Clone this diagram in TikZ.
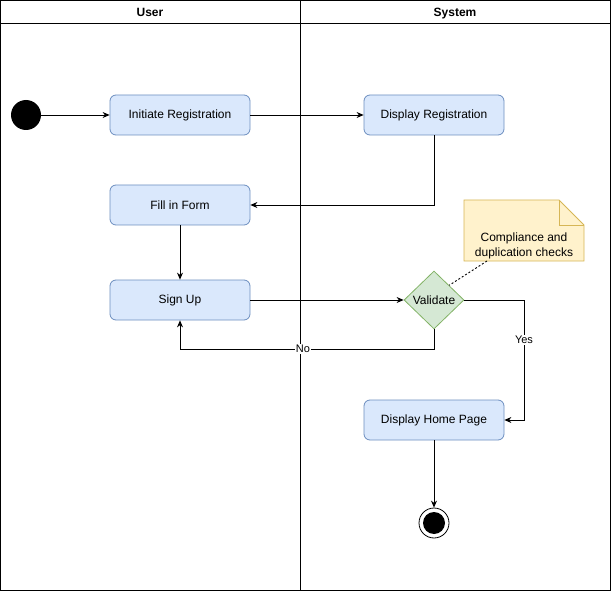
\documentclass[tikz,border=0pt]{standalone}
\usepackage{fontspec}
\setmainfont{Liberation Sans}
\usetikzlibrary{arrows.meta,shapes.geometric}
\definecolor{actfill}{HTML}{DAE8FC}
\definecolor{actline}{HTML}{6C8EBF}
\definecolor{decfill}{HTML}{D5E8D4}
\definecolor{decline}{HTML}{82B366}
\definecolor{notefill}{HTML}{FFF2CC}
\definecolor{noteline}{HTML}{D6B656}
\begin{document}
\begin{tikzpicture}[x=1pt,y=-1pt,
  font=\fontsize{12}{14}\selectfont,
  activity/.style={draw=actline,fill=actfill,rounded corners=6pt,line width=0.8pt,
    minimum width=140pt,minimum height=40pt,inner sep=0pt},
  decision/.style={diamond,draw=decline,fill=decfill,line width=0.8pt,
    minimum width=60pt,minimum height=58pt,inner sep=0pt,aspect=1.03},
  flow/.style={draw=black,line width=0.8pt,-{Stealth[length=7pt,width=6pt]}},
  lbl/.style={fill=white,inner sep=1pt,font=\fontsize{11}{13}\selectfont},
  lane/.style={draw=black,line width=0.8pt},
  header/.style={font=\bfseries\fontsize{12}{14}\selectfont,anchor=base,inner sep=0pt}]
\useasboundingbox (0,0) rectangle (611,591);
% swimlanes
\draw[lane] (0.5,0.5) rectangle (610.5,590.5);
\draw[lane] (0.5,23) -- (610.5,23);
\draw[lane] (300,0.5) -- (300,590.5);
\node[header] (huser) at (150,16.5) {User};
\node[header] (hsys) at (455,16.5) {System};
% initial and final states
\node[circle,fill=black,minimum size=30pt,inner sep=0pt] (start) at (26,115) {};
\node[circle,draw=black,line width=0.8pt,fill=white,minimum size=30pt,inner sep=0pt] (final) at (434,523) {};
\node[circle,fill=black,minimum size=22pt,inner sep=0pt] (finalin) at (434,523) {};
% activities
\node[activity] (init) at (180,115) {Initiate Registration};
\node[activity] (disp) at (434,115) {Display Registration};
\node[activity] (fill) at (180,205) {Fill in Form};
\node[activity] (sign) at (180,300) {Sign Up};
\node[decision] (valid) at (434,300) {Validate};
\node[activity] (home) at (434,420) {Display Home Page};
% note
\draw[draw=noteline,fill=notefill,line width=0.8pt]
  (464,200) -- (559,200) -- (584,225) -- (584,261) -- (464,261) -- cycle;
\draw[draw=noteline,line width=0.8pt] (559,200) -- (559,225) -- (584,225);
\node[align=center,font=\fontsize{12}{15}\selectfont] (note) at (524,246) {Compliance and\\duplication checks};
\coordinate (notefoot) at (487,261);
\draw[black,line width=0.9pt,dash pattern=on 2pt off 2pt] (notefoot) -- (valid.north east);
% flows
\draw[flow] (start) -- (init);
\draw[flow] (init) -- (disp);
\draw[flow] (disp.south) |- (fill.east);
\draw[flow] (fill) -- (sign);
\draw[flow] (sign) -- (valid);
\draw[flow] (valid.south) -- (434,349) -- node[lbl,pos=0.516] {No} (180,349) -- (sign.south);
\draw[flow] (valid.east) -- (524,300) -- node[lbl,pos=0.333] {Yes} (524,420) -- (home.east);
\draw[flow] (home) -- (final);
\end{tikzpicture}
\end{document}
